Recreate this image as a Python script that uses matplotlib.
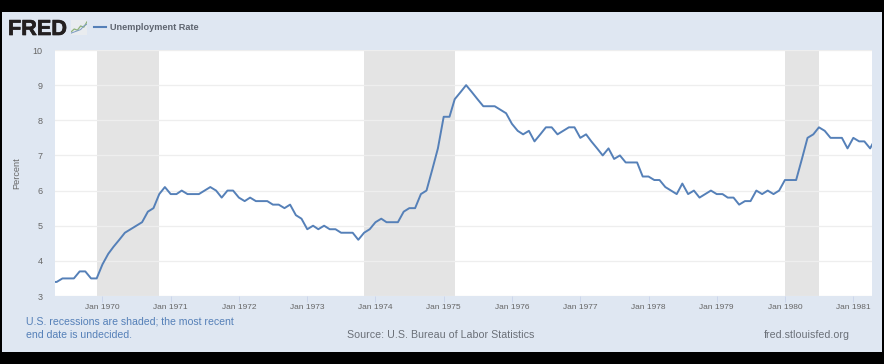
import matplotlib
matplotlib.use('Agg')
import matplotlib.pyplot as plt
import matplotlib.dates as mdates
import matplotlib.patheffects as pe
from matplotlib.patches import Rectangle
from matplotlib.lines import Line2D
import pandas as pd

plt.rcParams['font.family'] = ['Liberation Sans', 'DejaVu Sans']

W, H = 884, 364

# monthly unemployment rate, Apr 1969 - May 1981 (both ends get clipped by the axes)
rate_1969 = [3.4, 3.4, 3.5, 3.5, 3.5, 3.7, 3.7, 3.5, 3.5]
rate_1970 = [3.9, 4.2, 4.4, 4.6, 4.8, 4.9, 5.0, 5.1, 5.4, 5.5, 5.9, 6.1]
rate_1971 = [5.9, 5.9, 6.0, 5.9, 5.9, 5.9, 6.0, 6.1, 6.0, 5.8, 6.0, 6.0]
rate_1972 = [5.8, 5.7, 5.8, 5.7, 5.7, 5.7, 5.6, 5.6, 5.5, 5.6, 5.3, 5.2]
rate_1973 = [4.9, 5.0, 4.9, 5.0, 4.9, 4.9, 4.8, 4.8, 4.8, 4.6, 4.8, 4.9]
rate_1974 = [5.1, 5.2, 5.1, 5.1, 5.1, 5.4, 5.5, 5.5, 5.9, 6.0, 6.6, 7.2]
rate_1975 = [8.1, 8.1, 8.6, 8.8, 9.0, 8.8, 8.6, 8.4, 8.4, 8.4, 8.3, 8.2]
rate_1976 = [7.9, 7.7, 7.6, 7.7, 7.4, 7.6, 7.8, 7.8, 7.6, 7.7, 7.8, 7.8]
rate_1977 = [7.5, 7.6, 7.4, 7.2, 7.0, 7.2, 6.9, 7.0, 6.8, 6.8, 6.8, 6.4]
rate_1978 = [6.4, 6.3, 6.3, 6.1, 6.0, 5.9, 6.2, 5.9, 6.0, 5.8, 5.9, 6.0]
rate_1979 = [5.9, 5.9, 5.8, 5.8, 5.6, 5.7, 5.7, 6.0, 5.9, 6.0, 5.9, 6.0]
rate_1980 = [6.3, 6.3, 6.3, 6.9, 7.5, 7.6, 7.8, 7.7, 7.5, 7.5, 7.5, 7.2]
rate_1981 = [7.5, 7.4, 7.4, 7.2, 7.5]

rate = (rate_1969 + rate_1970 + rate_1971 + rate_1972 + rate_1973 + rate_1974 + rate_1975
        + rate_1976 + rate_1977 + rate_1978 + rate_1979 + rate_1980 + rate_1981)
months = pd.date_range('1969-04-01', periods=len(rate), freq='MS')

recession_start = ['1969-12-01', '1973-11-01', '1980-01-01']
recession_end = ['1970-11-01', '1975-03-01', '1980-07-01']
year_ticks = list(range(1970, 1982))
y_ticks = [3, 4, 5, 6, 7, 8, 9, 10]

PANEL = '#dfe7f2'
BLUE = '#5580b8'
GREY = '#666666'


def fx(x):
    return x / W


def fy(y):
    return 1 - y / H


fig = plt.figure(figsize=(W / 100, H / 100), dpi=100, facecolor='black')
fig.add_artist(Rectangle((fx(2), fy(352)), fx(880), 340 / H, transform=fig.transFigure,
                         facecolor=PANEL, edgecolor='none', zorder=-5))

ax = fig.add_axes([fx(55), fy(296), fx(817), 246 / H])
ax.set_facecolor('white')
for s, e in zip(recession_start, recession_end):
    ax.axvspan(pd.Timestamp(s), pd.Timestamp(e), facecolor='#e4e4e4', edgecolor='none', zorder=1)
ax.plot(months, rate, color=BLUE, lw=1.4, zorder=3, solid_joinstyle='round')

ax.set_xlim(pd.Timestamp('1969-04-22'), pd.Timestamp('1981-04-11'))
ax.set_ylim(3, 10)
ax.set_yticks(y_ticks)
ax.set_xticks([pd.Timestamp(f'{y}-01-01') for y in year_ticks])
ax.xaxis.set_major_formatter(mdates.DateFormatter('Jan %Y'))
ax.grid(axis='y', color='#eeeeee', lw=0.9, zorder=2)
ax.set_axisbelow(False)
for s in ax.spines.values():
    s.set_visible(False)
ax.tick_params(axis='x', length=4, width=0.7, color='#ccd6eb', labelsize=6.0, labelcolor=GREY, pad=2)
ax.tick_params(axis='y', length=0, labelsize=6.5, labelcolor=GREY, pad=9)
ax.set_ylabel('Percent', fontsize=6.6, color=GREY, labelpad=8)

# header
fred = fig.text(fx(8), fy(35), 'FRED', fontsize=15.6, fontweight='bold', color='#231f20', va='baseline')
fred.set_path_effects([pe.withStroke(linewidth=0.5, foreground='#231f20')])
icon = fig.add_axes([fx(71), fy(35), fx(16), 15 / H])
icon.set_facecolor('#e9ecef')
icon.set_xticks([])
icon.set_yticks([])
for s in icon.spines.values():
    s.set_visible(False)
icon.plot([0, 1, 2, 3, 4, 5], [1, 2, 1.6, 3, 2.6, 4.4], color='#8fb27a', lw=0.9)
icon.plot([0, 1, 2, 3, 4, 5], [0.6, 1, 1.4, 1.8, 3, 3.6], color='#7d9cc4', lw=0.7)
icon.set_xlim(0, 5)
icon.set_ylim(0, 5)

fig.add_artist(Line2D([fx(94), fx(106)], [fy(26.5), fy(26.5)], color=BLUE, lw=1.5))
fig.text(fx(110), fy(29.5), 'Unemployment Rate', fontsize=6.6, fontweight='bold', color='#5f6570')

# footer
fig.text(fx(26), fy(325), 'U.S. recessions are shaded; the most recent', fontsize=7.55, color=BLUE)
fig.text(fx(26), fy(338), 'end date is undecided.', fontsize=7.55, color=BLUE)
fig.text(fx(347), fy(338), 'Source: U.S. Bureau of Labor Statistics', fontsize=7.65, color='#6b7078')
fig.text(fx(764), fy(338), 'fred.stlouisfed.org', fontsize=7.65, color='#6b7078')

fig.savefig('out.png', dpi=100, facecolor='black')
